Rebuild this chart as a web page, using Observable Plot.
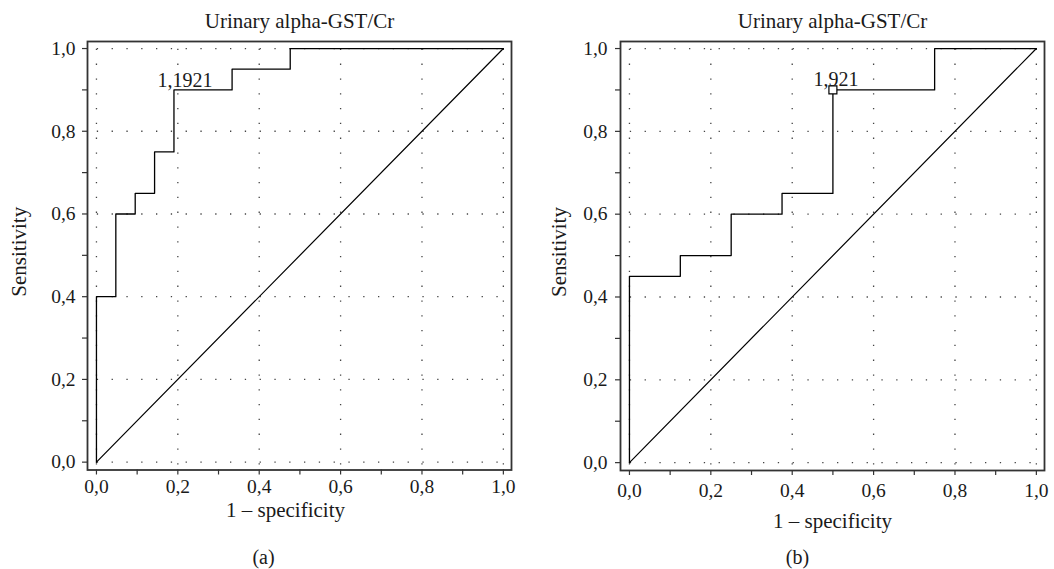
<!DOCTYPE html>
<html>
<head>
<meta charset="utf-8">
<script src="https://cdn.jsdelivr.net/npm/d3@7"></script>
<script src="https://cdn.jsdelivr.net/npm/@observablehq/plot@0.6"></script>
<style>
  body { margin: 0; background: #fff; }
  #wrap { position: relative; width: 1054px; height: 569px; overflow: hidden; background: #fff; }
  .panel { position: absolute; top: 0; }
  #panel-a { left: 0; }
  #panel-b { left: 533px; }
</style>
</head>
<body>
<div id="wrap"><div id="panel-a" class="panel"></div><div id="panel-b" class="panel"></div></div>
<script>
// Shared text
const title = "Urinary alpha-GST/Cr";
const xLabel = "1 – specificity";
const yLabel = "Sensitivity";

// Axis ticks (decimal comma labels on the major ticks)
const tickValues = [0, 0.2, 0.4, 0.6, 0.8, 1.0];
const tickLabels = ["0,0", "0,2", "0,4", "0,6", "0,8", "1,0"];
const minorTickValues = [0.1, 0.3, 0.5, 0.7, 0.9];

// Reference (chance) diagonal
const chanceFpr = [0, 1];
const chanceTpr = [0, 1];

// Panel (a): empirical ROC staircase corners
const fprA = [0, 0, 1/21, 1/21, 2/21, 2/21, 3/21, 3/21, 4/21, 4/21, 7/21, 7/21, 10/21, 10/21, 1];
const tprA = [0, 0.4, 0.4, 0.6, 0.6, 0.65, 0.65, 0.75, 0.75, 0.9, 0.9, 0.95, 0.95, 1, 1];
const cutoffA = {fpr: 4/21, tpr: 0.9, label: "1,1921"};

// Panel (b): empirical ROC staircase corners
const fprB = [0, 0, 0.125, 0.125, 0.25, 0.25, 0.375, 0.375, 0.5, 0.5, 0.75, 0.75, 1];
const tprB = [0, 0.45, 0.45, 0.5, 0.5, 0.6, 0.6, 0.65, 0.65, 0.9, 0.9, 1, 1];
const cutoffB = {fpr: 0.5, tpr: 0.9, label: "1,921"};

const FONT = "Liberation Serif, Times New Roman, serif";
const INK = "#1a1a1a";
const allTicks = [...tickValues, ...minorTickValues];
const fmt = d => { const i = tickValues.indexOf(d); return i < 0 ? "" : tickLabels[i]; };

function rocPanel(o) {
  const curve = o.fpr.map((x, i) => ({x, y: o.tpr[i]}));
  const chance = chanceFpr.map((x, i) => ({x, y: chanceTpr[i]}));
  const dotted = {stroke: "#444", strokeOpacity: 1, strokeWidth: 1.3, strokeDasharray: "1.3,13.5"};
  return Plot.plot({
    width: o.width,
    height: 569,
    marginLeft: 87,
    marginRight: o.marginRight,
    marginTop: 41,
    marginBottom: o.marginBottom,
    x: {domain: [-0.022, 1.02]},
    y: {domain: [-0.019, 1.017]},
    style: {fontFamily: FONT, fontSize: "20px", color: INK, background: "#fff", overflow: "visible"},
    marks: [
      Plot.gridX(tickValues, {...dotted, strokeDashoffset: 7}),
      Plot.gridY(tickValues, {...dotted, strokeDashoffset: 5}),
      Plot.axisX(allTicks, {tickSize: 5, tickPadding: o.xPad, tickFormat: fmt, label: null, fontSize: 19.5, stroke: "#333", strokeWidth: 1.2}),
      Plot.axisY(allTicks, {tickSize: 5, tickPadding: o.yPad, tickFormat: fmt, label: null, fontSize: 19.5, stroke: "#333", strokeWidth: 1.2}),
      Plot.frame({stroke: "#333", strokeWidth: 1.8}),
      Plot.line(chance, {x: "x", y: "y", stroke: "#000", strokeWidth: 1.2}),
      Plot.line(curve, {x: "x", y: "y", stroke: "#000", strokeWidth: 1.3}),
      o.marker ? Plot.dot([o.cutoff], {x: "fpr", y: "tpr", symbol: "square", r: 4.5, fill: "#fff", stroke: "#000", strokeWidth: 1.2}) : null,
      Plot.text([o.cutoff], {x: "fpr", y: "tpr", text: "label", textAnchor: "middle", lineAnchor: "bottom", dx: o.cutDx, dy: o.cutDy, fontSize: 20, fill: INK}),
      Plot.text([title], {frameAnchor: "top", textAnchor: "middle", lineAnchor: "bottom", dy: -14, fontSize: 21, fill: INK, style: {letterSpacing: "0.3px"}}),
      Plot.text([xLabel], {frameAnchor: "bottom", textAnchor: "middle", lineAnchor: "bottom", dx: o.xLabelDx, dy: o.xLabelDy, fontSize: 21, fill: INK}),
      Plot.text([yLabel], {frameAnchor: "left", textAnchor: "middle", lineAnchor: "bottom", rotate: -90, dx: o.yLabelDx, dy: -4, fontSize: 21, fill: INK}),
      Plot.text([o.tag], {frameAnchor: "bottom", textAnchor: "middle", lineAnchor: "bottom", dx: o.tagDx, dy: o.tagDy, fontSize: 20, fill: INK})
    ]
  });
}

document.getElementById("panel-a").append(rocPanel({
  fpr: fprA, tpr: tprA, cutoff: cutoffA, marker: false, tag: "(a)",
  width: 527, marginRight: 16, marginBottom: 99.5,
  xPad: 4, yPad: 7, cutDx: 11, cutDy: -3,
  xLabelDx: -14, xLabelDy: 46.5, yLabelDx: -61.5, tagDx: -36, tagDy: 94
}));

document.getElementById("panel-b").append(rocPanel({
  fpr: fprB, tpr: tprB, cutoff: cutoffB, marker: true, tag: "(b)",
  width: 521, marginRight: 10, marginBottom: 99,
  xPad: 8, yPad: 8, cutDx: 3, cutDy: -4,
  xLabelDx: 0, xLabelDy: 57, yLabelDx: -54.5, tagDx: -35, tagDy: 93
}));
</script>
</body>
</html>
